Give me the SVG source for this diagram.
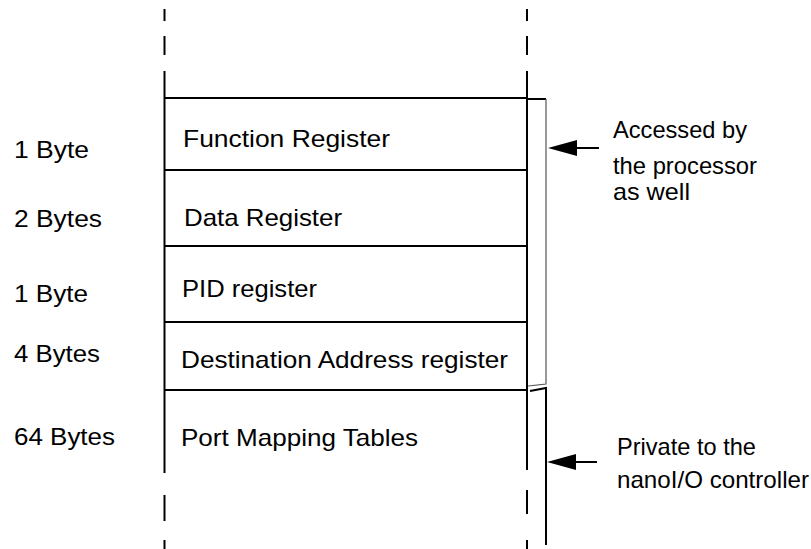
<svg xmlns="http://www.w3.org/2000/svg" width="811" height="549" viewBox="0 0 811 549">
<style>
.t{font-family:"Liberation Sans",Arial,sans-serif;font-size:24px;fill:#000}
.l{stroke:#000;stroke-width:2;fill:none}
.thin{stroke:#555;stroke-width:1.2;fill:none}
</style>
<defs>
<marker id="ah" markerWidth="30" markerHeight="18" refX="0" refY="8" orient="auto" markerUnits="userSpaceOnUse">
<path d="M0,0 L29,8 L0,16 Z" fill="#000"/>
</marker>
</defs>
<rect width="811" height="549" fill="#fff"/>
<g id="memory-column">
<path class="l" d="M164.5,9V21 M164.5,36V55 M164.5,71V473 M164.5,495V521 M164.5,540V549"/>
<path class="l" d="M527,9V21 M527,36V55 M527,71V470 M527,490V514 M527,540V549"/>
<path class="l" d="M164,98H527 M164,170H527 M164,246H527 M164,322H527 M164,390H527"/>
</g>
<g id="function-register"><text class="t" x="183" y="147" textLength="207" lengthAdjust="spacingAndGlyphs">Function Register</text><text class="t" x="14" y="158" textLength="75" lengthAdjust="spacingAndGlyphs">1 Byte</text></g>
<g id="data-register"><text class="t" x="184" y="226" textLength="158" lengthAdjust="spacingAndGlyphs">Data Register</text><text class="t" x="14" y="227" textLength="88" lengthAdjust="spacingAndGlyphs">2 Bytes</text></g>
<g id="pid-register"><text class="t" x="182" y="297" textLength="135" lengthAdjust="spacingAndGlyphs">PID register</text><text class="t" x="14" y="302" textLength="74" lengthAdjust="spacingAndGlyphs">1 Byte</text></g>
<g id="destination-register"><text class="t" x="181" y="368" textLength="327" lengthAdjust="spacingAndGlyphs">Destination Address register</text><text class="t" x="14" y="362" textLength="86" lengthAdjust="spacingAndGlyphs">4 Bytes</text></g>
<g id="port-mapping"><text class="t" x="181" y="446" textLength="237" lengthAdjust="spacingAndGlyphs">Port Mapping Tables</text><text class="t" x="14" y="445" textLength="101" lengthAdjust="spacingAndGlyphs">64 Bytes</text></g>
<g id="bracket">
<path class="l" d="M527,99H546"/>
<path class="thin" d="M546,99V384 L528,386"/>
<path class="l" d="M530,391 L546,388 V545"/>
</g>
<g id="connectors">
<path class="l" d="M599,148H577" marker-end="url(#ah)"/>
<path class="l" d="M597,462H576" marker-end="url(#ah)"/>
</g>
<g id="note-accessed">
<text class="t" x="613" y="138" textLength="134" lengthAdjust="spacingAndGlyphs">Accessed by</text>
<text class="t" x="613" y="174" textLength="144" lengthAdjust="spacingAndGlyphs">the processor</text>
<text class="t" x="613" y="200" textLength="77" lengthAdjust="spacingAndGlyphs">as well</text>
</g>
<g id="note-private">
<text class="t" x="617" y="455" textLength="139" lengthAdjust="spacingAndGlyphs">Private to the</text>
<text class="t" x="617" y="488" textLength="192" lengthAdjust="spacingAndGlyphs">nanoI/O controller</text>
</g>
</svg>
